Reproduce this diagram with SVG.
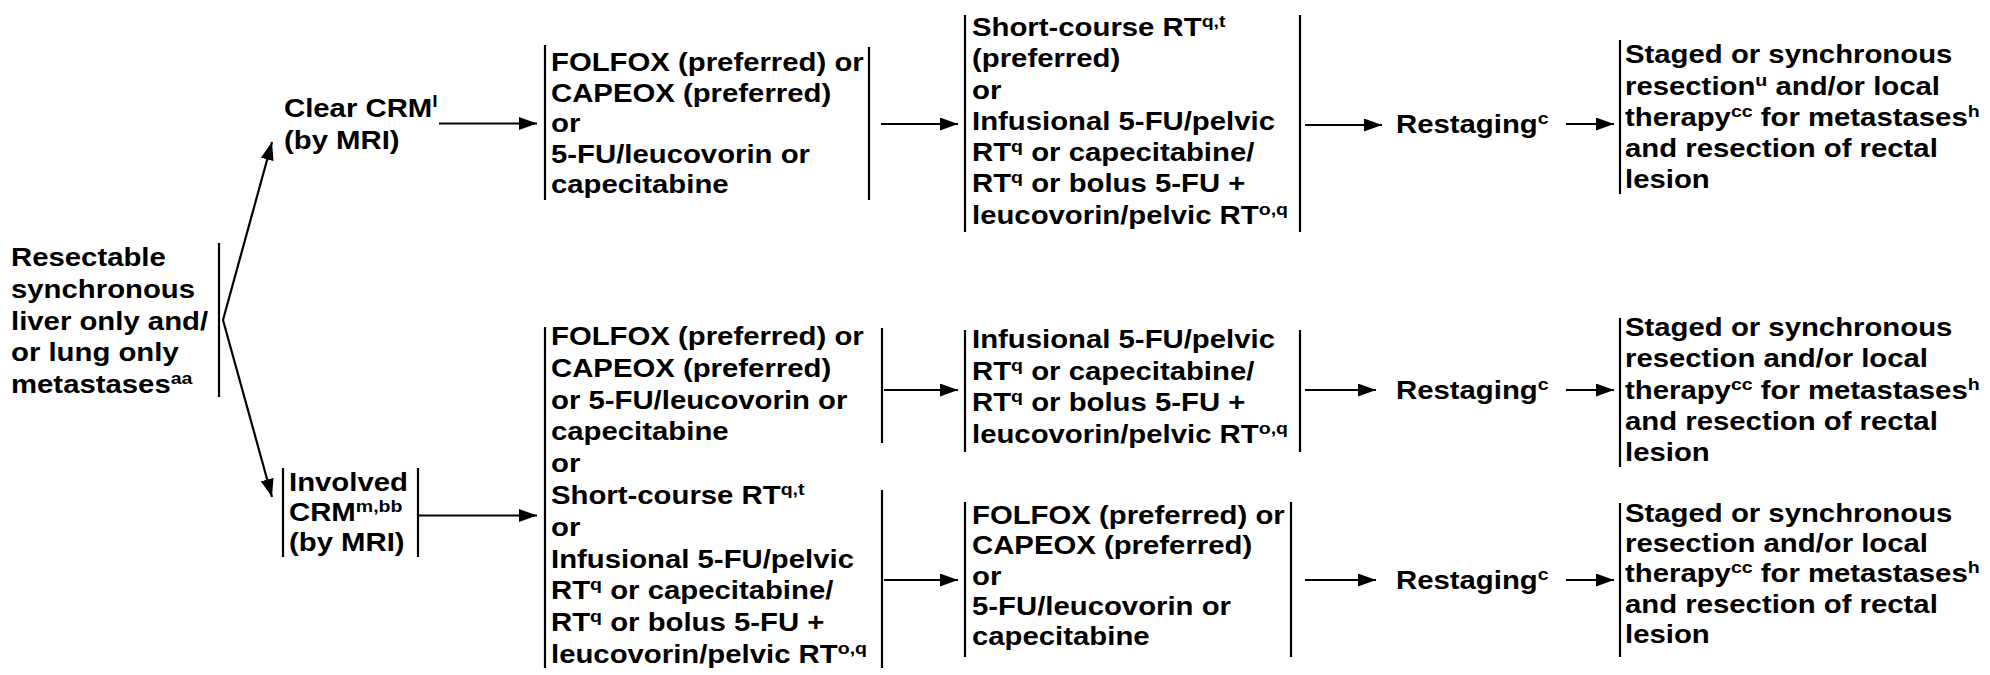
<svg xmlns="http://www.w3.org/2000/svg" width="1990" height="675" viewBox="0 0 1990 675">
<style>
text{font-family:"Liberation Sans",Arial,Helvetica,sans-serif;font-weight:bold;font-size:25.5px;fill:#000}
.s{font-size:17px}
.bar{stroke:#000;stroke-width:2.2;fill:none}
.con{stroke:#000;stroke-width:2.2;fill:none;marker-end:url(#ah)}
</style>
<defs>
<marker id="ah" markerUnits="userSpaceOnUse" markerWidth="18" markerHeight="13" refX="18" refY="6.5" orient="auto">
<path d="M0,0 L18,6.5 L0,13 z" fill="#000"/>
</marker>
</defs>
<rect width="1990" height="675" fill="#fff"/>

<g id="n-resectable">
<line class="bar" x1="219" y1="243" x2="219" y2="397"/>
<text transform="translate(11,0) scale(1.15,1)">
<tspan x="0" y="266">Resectable</tspan>
<tspan x="0" y="297.8">synchronous</tspan>
<tspan x="0" y="329.6">liver only and/</tspan>
<tspan x="0" y="361.4">or lung only</tspan>
<tspan x="0" y="393.2">metastases</tspan><tspan class="s" y="384">aa</tspan>
</text>
</g>

<g id="n-clear">
<text transform="translate(284,0) scale(1.15,1)">
<tspan x="0" y="116.7">Clear CRM</tspan><tspan class="s" y="107.5">l</tspan>
<tspan x="0" y="149">(by MRI)</tspan>
</text>
</g>

<g id="n-involved">
<line class="bar" x1="283" y1="468" x2="283" y2="557"/>
<line class="bar" x1="418" y1="468" x2="418" y2="557"/>
<text transform="translate(289,0) scale(1.15,1)">
<tspan x="0" y="491">Involved</tspan>
<tspan x="0" y="521.5">CRM</tspan><tspan class="s" y="512.5">m,bb</tspan>
<tspan x="0" y="551">(by MRI)</tspan>
</text>
</g>

<g id="n-chemo1">
<line class="bar" x1="545" y1="45" x2="545" y2="200"/>
<line class="bar" x1="869" y1="47" x2="869" y2="200"/>
<text transform="translate(551,0) scale(1.15,1)">
<tspan x="0" y="71.5">FOLFOX (preferred) or</tspan>
<tspan x="0" y="101.9">CAPEOX (preferred)</tspan>
<tspan x="0" y="132.3">or</tspan>
<tspan x="0" y="162.7">5-FU/leucovorin or</tspan>
<tspan x="0" y="193.1">capecitabine</tspan>
</text>
</g>

<g id="n-rt1">
<line class="bar" x1="965" y1="15" x2="965" y2="232"/>
<line class="bar" x1="1300" y1="15" x2="1300" y2="232"/>
<text transform="translate(972,0) scale(1.15,1)">
<tspan x="0" y="36">Short-course RT</tspan><tspan class="s" y="27">q,t</tspan>
<tspan x="0" y="67.3">(preferred)</tspan>
<tspan x="0" y="98.6">or</tspan>
<tspan x="0" y="129.9">Infusional 5-FU/pelvic</tspan>
<tspan x="0" y="161.2">RT</tspan><tspan class="s" y="152.2">q</tspan><tspan y="161.2"> or capecitabine/</tspan>
<tspan x="0" y="192.5">RT</tspan><tspan class="s" y="183.5">q</tspan><tspan y="192.5"> or bolus 5-FU +</tspan>
<tspan x="0" y="223.8">leucovorin/pelvic RT</tspan><tspan class="s" y="214.8">o,q</tspan>
</text>
</g>

<g id="n-restage1">
<text transform="translate(1396,0) scale(1.15,1)">
<tspan x="0" y="133">Restaging</tspan><tspan class="s" y="124">c</tspan>
</text>
</g>

<g id="n-surg1">
<line class="bar" x1="1620" y1="40" x2="1620" y2="194"/>
<text transform="translate(1625,0) scale(1.15,1)">
<tspan x="0" y="63.5">Staged or synchronous</tspan>
<tspan x="0" y="94.7">resection</tspan><tspan class="s" y="85.7">u</tspan><tspan y="94.7"> and/or local</tspan>
<tspan x="0" y="125.9">therapy</tspan><tspan class="s" y="116.9">cc</tspan><tspan y="125.9"> for metastases</tspan><tspan class="s" y="116.9">h</tspan>
<tspan x="0" y="157.1">and resection of rectal</tspan>
<tspan x="0" y="188.3">lesion</tspan>
</text>
</g>

<g id="n-options">
<line class="bar" x1="545" y1="327" x2="545" y2="668"/>
<line class="bar" x1="882" y1="328" x2="882" y2="443"/>
<line class="bar" x1="882" y1="490" x2="882" y2="668"/>
<text transform="translate(551,0) scale(1.15,1)">
<tspan x="0" y="345">FOLFOX (preferred) or</tspan>
<tspan x="0" y="376.8">CAPEOX (preferred)</tspan>
<tspan x="0" y="408.6">or 5-FU/leucovorin or</tspan>
<tspan x="0" y="440.4">capecitabine</tspan>
<tspan x="0" y="472.2">or</tspan>
<tspan x="0" y="504">Short-course RT</tspan><tspan class="s" y="495">q,t</tspan>
<tspan x="0" y="535.8">or</tspan>
<tspan x="0" y="567.6">Infusional 5-FU/pelvic</tspan>
<tspan x="0" y="599.4">RT</tspan><tspan class="s" y="590.4">q</tspan><tspan y="599.4"> or capecitabine/</tspan>
<tspan x="0" y="631.2">RT</tspan><tspan class="s" y="622.2">q</tspan><tspan y="631.2"> or bolus 5-FU +</tspan>
<tspan x="0" y="663">leucovorin/pelvic RT</tspan><tspan class="s" y="654">o,q</tspan>
</text>
</g>

<g id="n-rt2">
<line class="bar" x1="965" y1="330" x2="965" y2="452"/>
<line class="bar" x1="1300" y1="330" x2="1300" y2="452"/>
<text transform="translate(972,0) scale(1.15,1)">
<tspan x="0" y="348">Infusional 5-FU/pelvic</tspan>
<tspan x="0" y="379.7">RT</tspan><tspan class="s" y="370.7">q</tspan><tspan y="379.7"> or capecitabine/</tspan>
<tspan x="0" y="411.4">RT</tspan><tspan class="s" y="402.4">q</tspan><tspan y="411.4"> or bolus 5-FU +</tspan>
<tspan x="0" y="443.1">leucovorin/pelvic RT</tspan><tspan class="s" y="434.1">o,q</tspan>
</text>
</g>

<g id="n-restage2">
<text transform="translate(1396,0) scale(1.15,1)">
<tspan x="0" y="399">Restaging</tspan><tspan class="s" y="390">c</tspan>
</text>
</g>

<g id="n-surg2">
<line class="bar" x1="1620" y1="318" x2="1620" y2="467"/>
<text transform="translate(1625,0) scale(1.15,1)">
<tspan x="0" y="336">Staged or synchronous</tspan>
<tspan x="0" y="367.3">resection and/or local</tspan>
<tspan x="0" y="398.6">therapy</tspan><tspan class="s" y="389.6">cc</tspan><tspan y="398.6"> for metastases</tspan><tspan class="s" y="389.6">h</tspan>
<tspan x="0" y="429.9">and resection of rectal</tspan>
<tspan x="0" y="461.2">lesion</tspan>
</text>
</g>

<g id="n-chemo3">
<line class="bar" x1="965" y1="502" x2="965" y2="657"/>
<line class="bar" x1="1291" y1="502" x2="1291" y2="657"/>
<text transform="translate(972,0) scale(1.15,1)">
<tspan x="0" y="524">FOLFOX (preferred) or</tspan>
<tspan x="0" y="554.3">CAPEOX (preferred)</tspan>
<tspan x="0" y="584.6">or</tspan>
<tspan x="0" y="614.9">5-FU/leucovorin or</tspan>
<tspan x="0" y="645.2">capecitabine</tspan>
</text>
</g>

<g id="n-restage3">
<text transform="translate(1396,0) scale(1.15,1)">
<tspan x="0" y="589">Restaging</tspan><tspan class="s" y="580">c</tspan>
</text>
</g>

<g id="n-surg3">
<line class="bar" x1="1620" y1="503" x2="1620" y2="657"/>
<text transform="translate(1625,0) scale(1.15,1)">
<tspan x="0" y="521.7">Staged or synchronous</tspan>
<tspan x="0" y="552.1">resection and/or local</tspan>
<tspan x="0" y="582.5">therapy</tspan><tspan class="s" y="573.5">cc</tspan><tspan y="582.5"> for metastases</tspan><tspan class="s" y="573.5">h</tspan>
<tspan x="0" y="612.9">and resection of rectal</tspan>
<tspan x="0" y="643.3">lesion</tspan>
</text>
</g>

<g id="connectors">
<line class="con" x1="223" y1="320" x2="272" y2="142"/>
<line class="con" x1="223" y1="320" x2="272" y2="497"/>
<line class="con" x1="439" y1="123.5" x2="537" y2="123.5"/>
<line class="con" x1="418" y1="515.5" x2="537" y2="515.5"/>
<line class="con" x1="881" y1="124" x2="958" y2="124"/>
<line class="con" x1="1305" y1="125" x2="1382" y2="125"/>
<line class="con" x1="1566" y1="124" x2="1614" y2="124"/>
<line class="con" x1="884" y1="390" x2="958" y2="390"/>
<line class="con" x1="1305" y1="390" x2="1376" y2="390"/>
<line class="con" x1="1566" y1="390" x2="1614" y2="390"/>
<line class="con" x1="884" y1="580" x2="958" y2="580"/>
<line class="con" x1="1305" y1="580" x2="1376" y2="580"/>
<line class="con" x1="1566" y1="580" x2="1614" y2="580"/>
</g>
</svg>
